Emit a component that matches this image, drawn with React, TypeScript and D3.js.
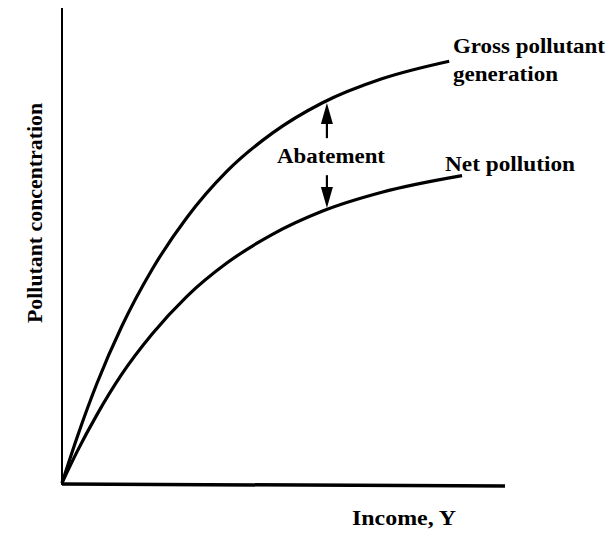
import React from "react";
import * as d3 from "d3";

// Income (x) values, abstract units 0..100
const grossX = [0, 3.4, 7.9, 13.5, 20.3, 28.2, 37.2, 47.4, 58.7, 72.2, 87.4];
const grossY = [0, 9.6, 21.0, 33.0, 44.9, 55.9, 65.6, 73.6, 80.0, 85.1, 88.8];
const netX = [0, 3.4, 7.9, 13.5, 20.3, 28.2, 37.2, 47.4, 58.7, 72.2, 90.3];
const netY = [0, 6.6, 14.4, 22.9, 31.3, 39.3, 46.3, 52.3, 57.2, 61.2, 64.7];

// Abatement arrows: x position, [tail, tip] values
const arrowX = 59.8;
const upArrow = [72.6, 80.0];
const downArrow = [64.8, 57.9];

const labels = {
  gross1: "Gross pollutant",
  gross2: "generation",
  net: "Net pollution",
  abatement: "Abatement",
  xTitle: "Income, Y",
  yTitle: "Pollutant concentration",
};

const W = 609;
const H = 537;

export default function App() {
  const x = d3.scaleLinear().domain([0, 100]).range([62, 505]);
  const y = d3.scaleLinear().domain([0, 100]).range([483, 8]);
  const line = d3
    .line<[number, number]>()
    .x((d) => x(d[0]))
    .y((d) => y(d[1]))
    .curve(d3.curveMonotoneX);
  const gross = grossX.map((v, i) => [v, grossY[i]] as [number, number]);
  const net = netX.map((v, i) => [v, netY[i]] as [number, number]);

  const arrow = (from: number, to: number) => {
    const ax = x(arrowX);
    const y0 = y(from);
    const y1 = y(to);
    const dir = y1 > y0 ? 1 : -1;
    const headLen = 21;
    const headW = 6;
    const base = y1 - dir * headLen;
    return (
      <g>
        <line x1={ax} y1={y0} x2={ax} y2={base} stroke="#000" strokeWidth={2.2} />
        <path
          d={`M${ax},${y1} L${ax - headW},${base} L${ax + headW},${base} Z`}
          fill="#000"
        />
      </g>
    );
  };

  const font = "'Liberation Serif', 'Times New Roman', serif";
  const textStyle = {
    fontFamily: font,
    fontWeight: 700 as const,
    fontSize: 20,
    fill: "#000",
  };

  return (
    <svg width={W} height={H} style={{ position: "absolute", left: 0, top: 0, background: "#fff" }}>
      <rect width={W} height={H} fill="#fff" />
      {/* axes */}
      <line x1={x(0)} y1={y(100)} x2={x(0)} y2={y(0) + 2} stroke="#000" strokeWidth={2} />
      <line x1={x(0)} y1={y(0) + 1} x2={x(100)} y2={y(0) + 3} stroke="#000" strokeWidth={3.5} />
      {/* curves */}
      <path d={line(gross) || ""} fill="none" stroke="#000" strokeWidth={3.2} />
      <path d={line(net) || ""} fill="none" stroke="#000" strokeWidth={3.2} />
      {arrow(upArrow[0], upArrow[1])}
      {arrow(downArrow[0], downArrow[1])}
      {/* labels */}
      <text x={453} y={53} textLength={152} lengthAdjust="spacingAndGlyphs" style={textStyle}>
        {labels.gross1}
      </text>
      <text x={453} y={81} textLength={105} lengthAdjust="spacingAndGlyphs" style={textStyle}>
        {labels.gross2}
      </text>
      <text x={445} y={171} textLength={130} lengthAdjust="spacingAndGlyphs" style={textStyle}>
        {labels.net}
      </text>
      <text x={277} y={163} textLength={108} lengthAdjust="spacingAndGlyphs" style={textStyle}>
        {labels.abatement}
      </text>
      <text x={352} y={525} textLength={104} lengthAdjust="spacingAndGlyphs" style={textStyle}>
        {labels.xTitle}
      </text>
      <text
        transform="translate(42,213) rotate(-90)"
        textAnchor="middle"
        textLength={220}
        lengthAdjust="spacingAndGlyphs"
        style={textStyle}
      >
        {labels.yTitle}
      </text>
    </svg>
  );
}
